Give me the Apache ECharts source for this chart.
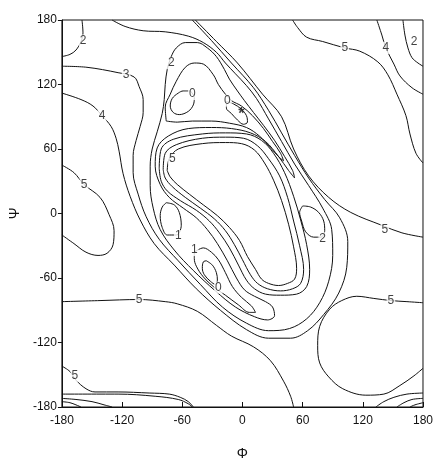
<!DOCTYPE html>
<html>
<head>
<meta charset="utf-8">
<script src="https://cdn.jsdelivr.net/npm/echarts@6/dist/echarts.min.js"></script>
<style>
html,body{margin:0;padding:0;background:#fff;}
#chart{width:436px;height:466px;}
</style>
</head>
<body>
<div id="chart"></div>
<script>
// Axis ticks
const phiTicks = [-180, -120, -60, 0, 60, 120, 180];
const psiTicks = [-180, -120, -60, 0, 60, 120, 180];

// Contour lines, each as [phi, psi] points
const c5a = [[-47,180],[-26,160],[-5,140],[20,111],[39,90],[51,60],[66,35],[86,15],[108,1],[139,-11],[159,-18],[180,-22]];
const c5b = [[180,47],[173,56],[167,74],[163,91],[154,111],[145,129],[135,141],[117,151],[102,154],[80,160],[64,164],[55,173],[50,180]];
const c5c = [[-180,45],[-168,38],[-158,27],[-142,15],[-133,-1],[-128,-16],[-129,-29],[-135,-37],[-144,-39],[-156,-36],[-168,-28],[-180,-20]];
const c5d = [[-180,-82],[-142,-81],[-103,-80],[-77,-82],[-65,-84],[-45,-91],[-26,-104],[-11,-114],[11,-124],[28,-137],[41,-156],[48,-170],[51,-180]];
const c5e = [[180,-83],[164,-82],[148,-81],[131,-79],[114,-77],[99,-81],[87,-89],[77,-105],[75,-123],[77,-139],[86,-152],[100,-163],[123,-169],[141,-168],[157,-160],[171,-151],[180,-144]];
const c5f = [[-180,-142],[-172,-147],[-166,-155],[-156,-163],[-147,-166],[-124,-166],[-93,-167],[-73,-168],[-62,-171],[-54,-175],[-49,-180]];

const c4a = [[-180,112],[-161,106],[-149,100],[-140,91],[-131,81],[-126,70],[-123,58],[-119,37],[-112,16],[-102,-6],[-88,-28],[-68,-48],[-46,-70],[-22,-90],[4,-108],[26,-116],[48,-116],[65,-109],[81,-94],[96,-74],[104,-50],[105,-26],[97,-4],[82,13],[66,33],[52,54],[39,75],[26,96],[11,117],[-11,140],[-31,161],[-50,180]];
const c4b = [[134,180],[139,166],[143,154],[151,139],[157,128],[169,117],[180,111]];
const c4c = [[-180,-168],[-124,-168],[-87,-170],[-64,-173],[-54,-177],[-50,-180]];
const c4d = [[133,-180],[141,-175],[151,-171],[164,-168],[180,-167]];

const c3a = [[-180,137],[-155,136],[-124,131],[-108,127],[-103,118],[-99,106],[-99,94],[-102,81],[-106,68],[-109,54],[-109,38],[-104,18],[-96,-3],[-83,-24],[-64,-44],[-42,-66],[-20,-87],[4,-102],[26,-109],[47,-107],[64,-98],[77,-83],[86,-63],[90,-39],[89,-15],[80,5],[66,26],[52,46],[39,67],[26,88],[14,107],[4,119],[-7,130],[-17,140],[-26,150],[-39,159],[-54,165],[-77,169],[-99,170],[-117,174],[-130,180]];
const c3b = [[-180,-172],[-166,-173],[-150,-175],[-138,-178],[-130,-180]];
const c3c = [[154,-180],[161,-176],[169,-173],[180,-172]];

const c2a = [[-160,180],[-159,168],[-161,160],[-166,152],[-172,148],[-180,146]];
const c2b = [[-180,-175],[-172,-176],[-166,-178],[-161,-180]];
const c2c = [[167,-180],[172,-178],[180,-176]];
const c2d = [[160,180],[162,166],[165,154],[169,145],[175,140],[180,137]];
const c2Basin = [[52,33],[50,40],[42,53],[32,68],[21,82],[11,94],[2,105],[-5,114],[-13,125],[-18,134],[-26,146],[-35,154],[-45,159],[-57,159],[-66,154],[-71,146],[-75,134],[-77,120],[-78,106],[-80,93],[-85,76],[-90,60],[-92,44],[-92,26],[-89,5],[-82,-15],[-68,-34],[-49,-53],[-27,-72],[-7,-87],[12,-96],[25,-99],[32,-95],[30,-87],[23,-82],[12,-77],[2,-71],[-6,-60],[-15,-44],[-25,-28],[-35,-15],[-46,-4],[-59,5],[-73,15],[-82,27],[-87,44],[-85,61],[-74,72],[-54,79],[-31,80],[-11,79],[8,75],[23,67],[36,53],[46,40],[52,33]];
const c2Right = [[60,7],[68,6],[76,1],[81,-7],[82,-16],[78,-22],[71,-22],[63,-17],[59,-7],[57,1],[60,7]];

const ring3 = [[-83,42],[-81,60],[-69,69],[-40,74],[-17,75],[4,74],[19,68],[31,56],[42,38],[51,16],[58,-6],[64,-29],[67,-52],[64,-68],[54,-75],[38,-76],[23,-75],[12,-70],[4,-62],[-4,-48],[-13,-32],[-23,-18],[-33,-7],[-46,3],[-62,12],[-75,21],[-81,30],[-83,42]];
const ring4 = [[-79,41],[-77,56],[-66,64],[-40,70],[-17,71],[1,70],[15,63],[26,51],[37,35],[45,15],[51,-7],[57,-30],[61,-52],[58,-65],[50,-70],[38,-72],[25,-70],[15,-65],[8,-57],[0,-43],[-8,-29],[-17,-16],[-28,-5],[-42,5],[-57,15],[-70,25],[-77,33],[-79,41]];
const ring5 = [[-75,40],[-73,51],[-64,60],[-40,65],[-17,66],[-1,65],[12,59],[22,47],[31,31],[39,12],[46,-10],[51,-31],[54,-51],[52,-61],[45,-65],[36,-67],[26,-65],[19,-61],[13,-52],[5,-40],[-3,-25],[-13,-13],[-25,-2],[-39,8],[-53,18],[-65,27],[-72,34],[-75,40]];

const c1Upper = [[-76,86],[-77,99],[-72,111],[-66,123],[-57,136],[-48,140],[-39,139],[-29,129],[-24,120],[-17,111],[-11,105],[-1,100],[10,91],[21,79],[30,67],[38,56],[41,49],[37,52],[28,61],[17,72],[4,80],[-13,84],[-31,86],[-50,86],[-65,85],[-76,86]];
const c1Left = [[-76,10],[-68,8],[-63,1],[-61,-11],[-66,-20],[-75,-20],[-80,-13],[-82,-2],[-80,6],[-76,10]];
const c1Lower = [[-48,-36],[-39,-32],[-31,-36],[-24,-43],[-17,-55],[-10,-68],[-1,-78],[9,-86],[13,-92],[7,-92],[-4,-85],[-17,-76],[-29,-68],[-39,-59],[-46,-49],[-48,-42],[-48,-36]];

const c0Upper = [[-52,114],[-48,108],[-49,101],[-54,95],[-63,92],[-69,94],[-72,100],[-70,107],[-64,112],[-59,114],[-52,114]];
const c0Star = [[-16,104],[-9,102],[-1,97],[4,91],[5,85],[1,83],[-5,87],[-11,93],[-16,98],[-16,104]];
const c0Lower = [[-36,-44],[-30,-48],[-26,-55],[-25,-62],[-27,-66],[-32,-63],[-38,-57],[-40,-51],[-39,-45],[-36,-44]];

// Contour labels
const labelText = ['2','3','4','0','2','0','5','4','2','5','5','1','1','0','2','5','5','5','5'];
const labelPos  = [[-159,161],[-116,129],[-140,91],[-50,111],[-71,140],[-15,105],[102,154],[143,154],[171,160],[-70,51],[-158,27],[-64,-21],[-48,-34],[-24,-69],[80,-23],[142,-15],[-103,-80],[148,-81],[-167,-151]];
const starPos = [[-1,92]];

const contours = [c5a,c5b,c5c,c5d,c5e,c5f,c4a,c4b,c4c,c4d,c3a,c3b,c3c,c2a,c2b,c2c,c2d,c2Basin,c2Right,ring3,ring4,ring5,c1Upper,c1Left,c1Lower,c0Upper,c0Star,c0Lower];

const chart = echarts.init(document.getElementById('chart'));
const FONT = '"Liberation Sans", Arial, sans-serif';

const series = contours.map(function (pts) {
  return {
    type: 'line', data: pts, showSymbol: false, symbol: 'none',
    smooth: 0.35, clip: true,
    lineStyle: { color: '#111', width: 1 }, silent: true, z: 2
  };
});
series.push({
  type: 'scatter', symbolSize: 0, z: 5, silent: true,
  data: labelPos.map(function (p, i) { return { name: labelText[i], value: p }; }),
  label: {
    show: true, position: 'inside', formatter: '{b}', color: '#111',
    fontFamily: FONT, fontSize: 12, backgroundColor: '#fff', padding: [0, 1]
  }
});
series.push({
  type: 'scatter', symbolSize: 0, z: 5, silent: true,
  data: starPos.map(function (p) { return { name: '*', value: p }; }),
  label: { show: true, position: 'inside', formatter: '{b}', color: '#111', fontFamily: FONT, fontSize: 16, fontWeight: 'bold' }
});

chart.setOption({
  animation: false,
  backgroundColor: '#fff',
  grid: { left: 39.5, right: 8.5, top: 20, bottom: 54.3, show: true, borderColor: '#111', borderWidth: 1 },
  xAxis: {
    type: 'value', min: -180, max: 180, interval: 60,
    name: '\u03A6', nameLocation: 'middle', nameGap: 40,
    nameTextStyle: { fontFamily: FONT, fontSize: 14, color: '#111' },
    axisLine: { show: true, onZero: false, lineStyle: { color: '#111' } },
    axisTick: { show: true, inside: true, length: 5, lineStyle: { color: '#111' } },
    axisLabel: { fontFamily: FONT, fontSize: 12, color: '#111', margin: 8,
      formatter: function (v) { return phiTicks.indexOf(v) >= 0 ? String(v) : ''; } },
    splitLine: { show: false }
  },
  yAxis: {
    type: 'value', min: -180, max: 180, interval: 60,
    name: '\u03A8', nameLocation: 'middle', nameGap: 27, nameRotate: 90,
    nameTextStyle: { fontFamily: FONT, fontSize: 14, color: '#111' },
    axisLine: { show: true, onZero: false, lineStyle: { color: '#111' } },
    axisTick: { show: true, inside: false, length: 4, lineStyle: { color: '#111' } },
    axisLabel: { fontFamily: FONT, fontSize: 12, color: '#111', margin: 5,
      formatter: function (v) { return psiTicks.indexOf(v) >= 0 ? String(v) : ''; } },
    splitLine: { show: false }
  },
  series: series
});
</script>
</body>
</html>
